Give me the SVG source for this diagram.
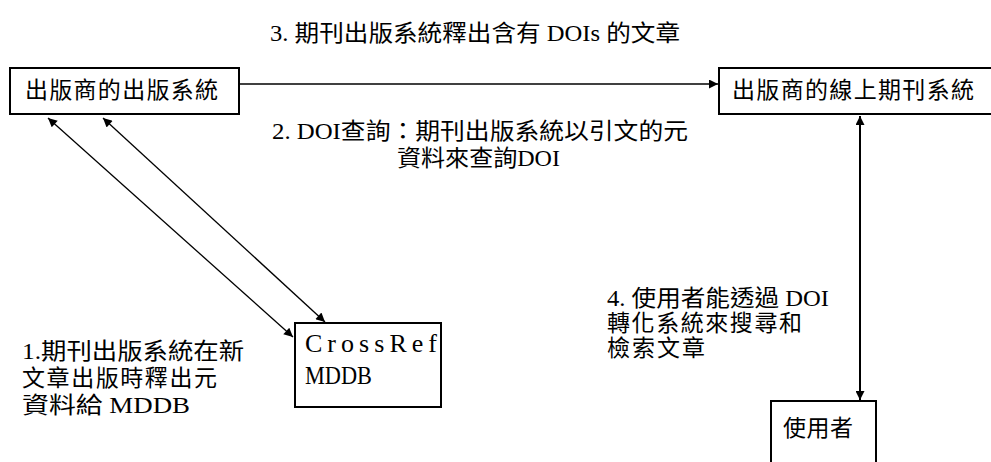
<svg xmlns="http://www.w3.org/2000/svg" width="991" height="462" viewBox="0 0 991 462">
<defs>
<style>
.box{fill:#fff;stroke:#000;stroke-width:2}
.cn{font-family:"Liberation Serif","Noto Sans CJK TC",serif;font-size:23px;fill:#000}
.lat{font-family:"Liberation Serif","Noto Sans CJK TC",serif;font-size:26px;fill:#000}
.ln{fill:none;stroke:#000;stroke-width:1.3}
.ln2{fill:none;stroke:#000;stroke-width:2}
</style>
<marker id="ah" viewBox="0 0 10 10" refX="10" refY="5" markerWidth="11" markerHeight="9" markerUnits="userSpaceOnUse" orient="auto-start-reverse">
<path d="M0,0 L10,5 L0,10 z" fill="#000"/>
</marker>
</defs>
<rect width="991" height="462" fill="#fff"/>
<text class="cn" x="270" y="41" textLength="410" lengthAdjust="spacingAndGlyphs">3. 期刊出版系統釋出含有 DOIs 的文章</text>
<g id="connectors">
<line class="ln" x1="240" y1="84" x2="718" y2="84" marker-end="url(#ah)"/>
<line class="ln2" x1="860" y1="116" x2="860" y2="400" marker-start="url(#ah)" marker-end="url(#ah)"/>
<line class="ln" x1="48" y1="118" x2="293" y2="337" marker-start="url(#ah)" marker-end="url(#ah)"/>
<line class="ln" x1="103" y1="118" x2="325" y2="322" marker-start="url(#ah)" marker-end="url(#ah)"/>
</g>
<g id="publisher">
<rect class="box" x="10" y="68" width="229" height="46"/>
<text class="cn" x="25" y="98" textLength="193" lengthAdjust="spacing">出版商的出版系統</text>
</g>
<g id="online">
<rect class="box" x="719" y="68" width="280" height="46"/>
<text class="cn" x="732" y="98" textLength="242" lengthAdjust="spacing">出版商的線上期刊系統</text>
</g>
<g id="crossref">
<rect class="box" x="295" y="323" width="146" height="84"/>
<text class="lat" x="305" y="352" textLength="132" lengthAdjust="spacing">CrossRef</text>
<text class="lat" x="305" y="384" textLength="67" lengthAdjust="spacingAndGlyphs">MDDB</text>
</g>
<g id="user">
<rect class="box" x="771" y="401" width="105" height="70"/>
<text class="cn" x="783" y="436" textLength="70" lengthAdjust="spacing">使用者</text>
</g>
<g id="labels">
<text class="cn" x="272" y="139" textLength="416" lengthAdjust="spacingAndGlyphs">2. DOI查詢：期刊出版系統以引文的元</text>
<text class="cn" x="397" y="166" textLength="163" lengthAdjust="spacingAndGlyphs">資料來查詢DOI</text>
<text class="cn" x="22" y="359" textLength="222" lengthAdjust="spacingAndGlyphs">1.期刊出版系統在新</text>
<text class="cn" x="22" y="386" textLength="195" lengthAdjust="spacing">文章出版時釋出元</text>
<text class="cn" x="22" y="413" textLength="168" lengthAdjust="spacingAndGlyphs">資料給 MDDB</text>
<text class="cn" x="607" y="306" textLength="222" lengthAdjust="spacingAndGlyphs">4. 使用者能透過 DOI</text>
<text class="cn" x="607" y="331" textLength="195" lengthAdjust="spacing">轉化系統來搜尋和</text>
<text class="cn" x="607" y="356" textLength="98" lengthAdjust="spacing">檢索文章</text>
</g>
</svg>
